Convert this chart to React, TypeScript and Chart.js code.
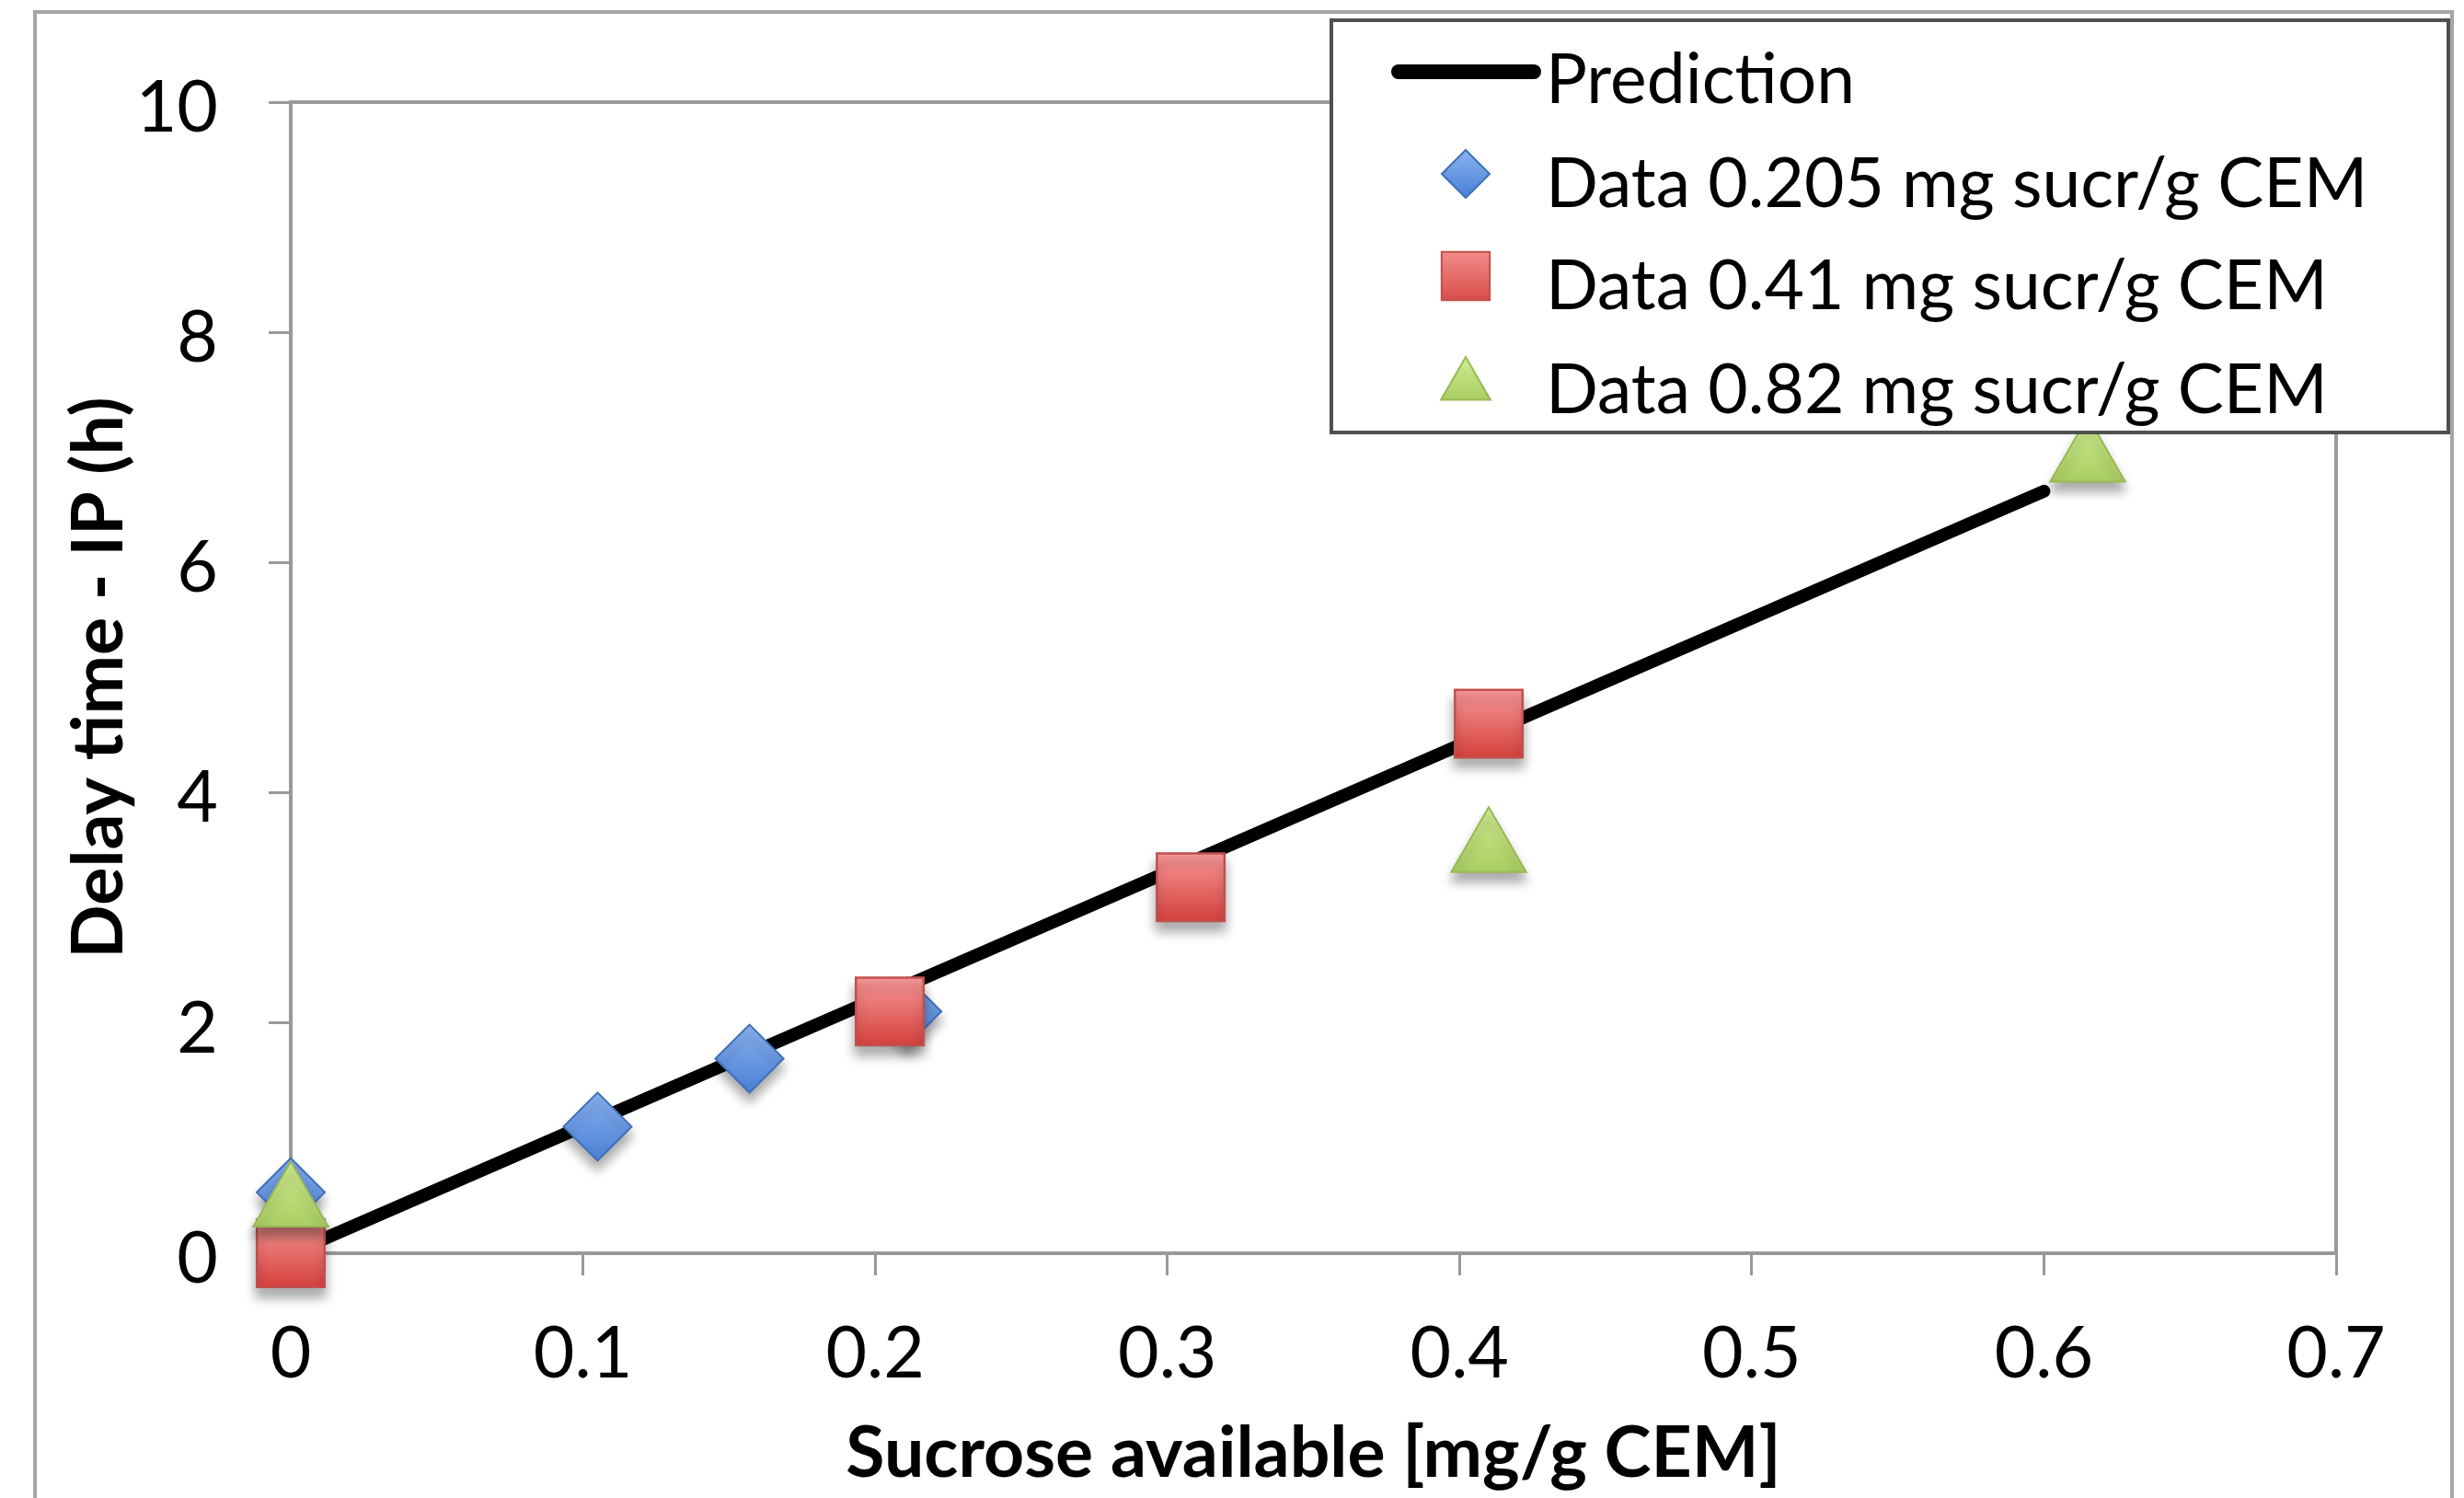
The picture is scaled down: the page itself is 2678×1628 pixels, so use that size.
import React, { useEffect, useRef } from 'react';
import { Chart, registerables } from 'chart.js';
import { drawPoint } from 'chart.js/helpers';

Chart.register(...registerables);

// ---- data ----
const predictionX = [0, 0.6];
const predictionY = [0, 6.62];
const data205X = [0, 0.105, 0.157, 0.211];
const data205Y = [0.53, 1.1, 1.69, 2.1];
const data41X = [0, 0.205, 0.308, 0.41];
const data41Y = [0, 2.1, 3.18, 4.6];
const data82X = [0, 0.41, 0.615];
const data82Y = [0.42, 3.5, 6.89];
const seriesLabels = [
  'Prediction',
  'Data 0.205 mg sucr/g CEM',
  'Data 0.41 mg sucr/g CEM',
  'Data 0.82 mg sucr/g CEM',
];
const xTickLabels = ['0', '0.1', '0.2', '0.3', '0.4', '0.5', '0.6', '0.7'];
const yTickLabels = ['0', '2', '4', '6', '8', '10'];
const xTitle = 'Sucrose available [mg/g CEM]';
const yTitle = 'Delay time - IP (h)';

const pts = (xs: number[], ys: number[]) => xs.map((x, i) => ({ x, y: ys[i] }));

// ---- styles ----
const FONT = 'Lato';
const AXIS = '#999999';
const BLUE = { top: '#8ab2f2', bottom: '#4a80d4', border: '#3f70b8' };
const RED = { top: '#f89896', bottom: '#d4403d', border: '#c0504d' };
const GREEN = { top: '#d0ec90', bottom: '#9cc454', border: '#98b954' };

function gradientFill(col: { top: string; bottom: string }, r: number) {
  return (ctx: any) => {
    const chart = ctx.chart;
    if (ctx.type !== 'data' || !chart.chartArea || !chart.scales || !chart.scales.y || !ctx.parsed) return col.bottom;
    const py = chart.scales.y.getPixelForValue(ctx.parsed.y);
    const g = chart.ctx.createLinearGradient(0, py - r, 0, py + r);
    g.addColorStop(0, col.top);
    g.addColorStop(1, col.bottom);
    return g;
  };
}

const framePlugin = {
  id: 'frame',
  beforeDraw(chart: any) {
    const c = chart.ctx;
    c.save();
    c.fillStyle = '#ffffff';
    c.fillRect(0, 0, chart.width, chart.height);
    c.strokeStyle = '#a6a6a6';
    c.lineWidth = 4;
    c.strokeRect(38, 13, 2627, 1700);
    c.restore();
  },
  beforeDatasetsDraw(chart: any) {
    const { top, right, left, bottom } = chart.chartArea;
    const c = chart.ctx;
    c.save();
    c.strokeStyle = AXIS;
    c.lineWidth = 4;
    c.beginPath();
    c.moveTo(left - 2, top);
    c.lineTo(right, top);
    c.lineTo(right, bottom + 2);
    c.stroke();
    c.restore();
  },
};

const shadowPlugin = {
  id: 'markerShadow',
  beforeDatasetDraw(chart: any, args: any) {
    if (args.index === 0) return;
    const c = chart.ctx;
    c.save();
    c.shadowColor = 'rgba(0,0,0,0.33)';
    c.shadowBlur = 12;
    c.shadowOffsetY = 10;
  },
  afterDatasetDraw(chart: any, args: any) {
    if (args.index === 0) return;
    chart.ctx.restore();
  },
};

const legendPlugin = {
  id: 'customLegend',
  afterDraw(chart: any) {
    const c = chart.ctx;
    c.save();
    c.fillStyle = '#ffffff';
    c.fillRect(1447, 22, 1214, 448);
    c.strokeStyle = '#505050';
    c.lineWidth = 4;
    c.strokeRect(1447, 22, 1214, 448);

    // line sample
    c.strokeStyle = '#000000';
    c.lineWidth = 16;
    c.lineCap = 'round';
    c.beginPath();
    c.moveTo(1520, 78);
    c.lineTo(1667, 78);
    c.stroke();

    const markers = [
      { style: 'rectRot', r: 26, y: 189, col: BLUE },
      { style: 'rect', r: 37, y: 300, col: RED },
      { style: 'triangle', r: 31, y: 419, col: GREEN },
    ];
    markers.forEach((m) => {
      const g = c.createLinearGradient(0, m.y - m.r, 0, m.y + m.r);
      g.addColorStop(0, m.col.top);
      g.addColorStop(1, m.col.bottom);
      c.fillStyle = g;
      c.strokeStyle = m.col.border;
      c.lineWidth = 2;
      drawPoint(c, { pointStyle: m.style, radius: m.r, borderWidth: 2, rotation: 0 } as any, 1593, m.y);
    });

    c.fillStyle = '#000000';
    c.font = `75px ${FONT}`;
    c.textAlign = 'left';
    c.textBaseline = 'alphabetic';
    const baselines = [112, 225, 336, 449];
    seriesLabels.forEach((t, i) => c.fillText(t, 1680, baselines[i]));
    c.restore();
  },
};

export default function App() {
  const ref = useRef<HTMLCanvasElement>(null);
  useEffect(() => {
    document.body.style.margin = '0';
    Chart.defaults.font.family = FONT;
    const tickFont = { family: FONT, size: 77 };
    const titleFont = { family: FONT, size: 77, weight: 'bold' as const, lineHeight: 1.2 };
    const chart = new Chart(ref.current as HTMLCanvasElement, {
      type: 'scatter',
      data: {
        datasets: [
          {
            label: seriesLabels[0],
            data: pts(predictionX, predictionY),
            showLine: true,
            borderColor: '#000000',
            backgroundColor: '#000000',
            borderWidth: 14,
            borderCapStyle: 'round',
            pointRadius: 0,
            order: 3,
            clip: false,
          } as any,
          {
            label: seriesLabels[1],
            data: pts(data205X, data205Y),
            pointStyle: 'rectRot',
            pointRadius: 37,
            pointBorderWidth: 2,
            backgroundColor: gradientFill(BLUE, 37),
            borderColor: BLUE.border,
            order: 2,
            clip: false,
          } as any,
          {
            label: seriesLabels[2],
            data: pts(data41X, data41Y),
            pointStyle: 'rect',
            pointRadius: 52,
            pointBorderWidth: 2.5,
            backgroundColor: gradientFill(RED, 37),
            borderColor: RED.border,
            order: 1,
            clip: false,
          } as any,
          {
            label: seriesLabels[3],
            data: pts(data82X, data82Y),
            pointStyle: 'triangle',
            pointRadius: 47,
            pointBorderWidth: 2,
            backgroundColor: gradientFill(GREEN, 47),
            borderColor: GREEN.border,
            order: 0,
            clip: false,
          } as any,
        ],
      },
      options: {
        animation: false,
        responsive: false,
        devicePixelRatio: 1,
        events: [],
        layout: { padding: { left: 0, top: 111, right: 139, bottom: 0 } },
        plugins: { legend: { display: false }, tooltip: { enabled: false } },
        scales: {
          x: {
            type: 'linear',
            position: 'bottom',
            min: 0,
            max: 0.7,
            afterFit: (s: any) => {
              s.height = 266;
            },
            ticks: {
              stepSize: 0.1,
              padding: 40,
              color: '#000000',
              font: tickFont,
              maxRotation: 0,
              autoSkip: false,
              callback: (_v: any, i: number) => xTickLabels[i],
            },
            grid: { display: true, drawOnChartArea: false, drawTicks: true, tickLength: 24, color: AXIS, lineWidth: 3 },
            border: { display: true, color: AXIS, width: 4 },
            title: { display: true, text: xTitle, color: '#000000', font: titleFont, padding: { top: 0, bottom: 2 } },
          },
          y: {
            type: 'linear',
            min: 0,
            max: 10,
            afterFit: (s: any) => {
              s.width = 316;
            },
            ticks: {
              stepSize: 2,
              padding: 55,
              labelOffset: 7,
              color: '#000000',
              font: tickFont,
              callback: (_v: any, i: number) => yTickLabels[i],
            },
            grid: { display: true, drawOnChartArea: false, drawTicks: true, tickLength: 24, color: AXIS, lineWidth: 3 },
            border: { display: true, color: AXIS, width: 4 },
            title: { display: true, text: yTitle, color: '#000000', font: titleFont, padding: { top: 62, bottom: 0 } },
          },
        },
      } as any,
      plugins: [framePlugin, shadowPlugin, legendPlugin],
    });
    return () => chart.destroy();
  }, []);
  return (
    <div style={{ width: 2678, height: 1628, position: 'relative', overflow: 'hidden' }}>
      <canvas ref={ref} width={2678} height={1628} style={{ display: 'block' }} />
    </div>
  );
}
